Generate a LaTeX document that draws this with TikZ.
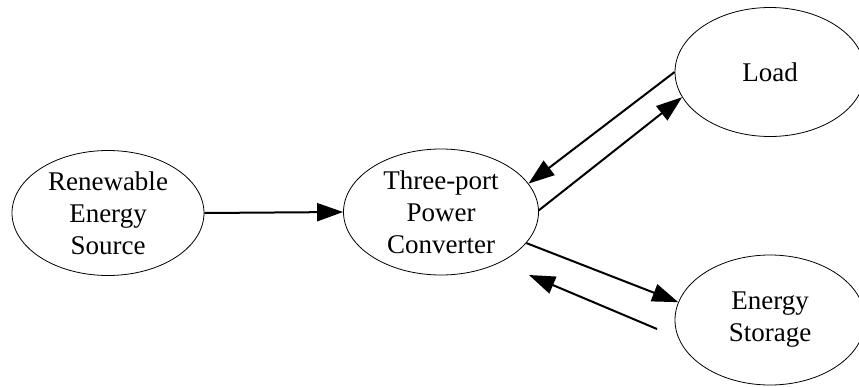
\documentclass[tikz,border=0pt]{standalone}
\usepackage{fontspec}
\setmainfont{Liberation Serif}
\usetikzlibrary{shapes.geometric,arrows.meta}
\begin{document}
\begin{tikzpicture}[x=1pt,y=-1pt,
  blob/.style={draw,ellipse,line width=0.8pt,inner sep=0pt,align=center,
    font=\fontsize{27}{32}\selectfont},
  flow/.style={line width=2pt,-{Triangle[length=26pt,width=18pt]}}]
\useasboundingbox (0,0) rectangle (859,386);
% energy blocks
\node[blob,minimum width=192pt,minimum height=125pt] (ren) at (108,213) {Renewable\\Energy\\Source};
\node[blob,minimum width=195pt,minimum height=126pt] (conv) at (441,212) {Three-port\\Power\\Converter};
\node[blob,minimum width=190pt,minimum height=129pt] (load) at (770,72) {Load};
\node[blob,minimum width=190pt,minimum height=130pt] (stor) at (770,320) {Energy\\Storage};
% free ends of the return path from storage
\coordinate (back0) at (657,329);
\coordinate (back1) at (529,275);
% power flows
\draw[flow] (ren.east) -- (conv.west);
\draw[flow] (load.180) -- (conv.18);
\draw[flow] (conv.1) -- (load.196);
\draw[flow] (conv.-20) -- (stor.169);
\draw[flow] (back0) -- (back1);
\end{tikzpicture}
\end{document}
